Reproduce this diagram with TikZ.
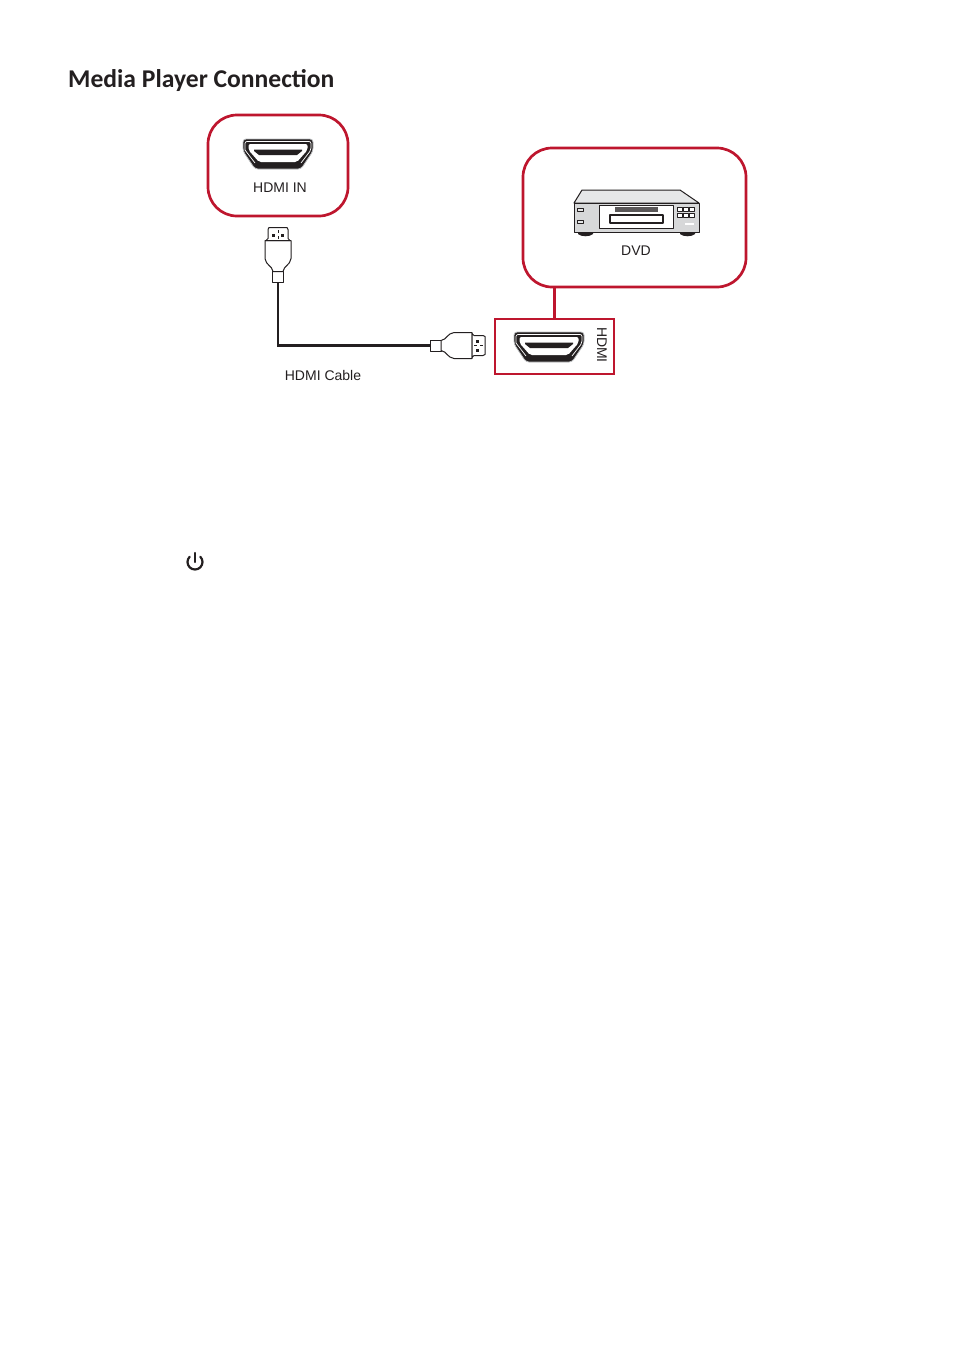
\documentclass[tikz,border=0pt]{standalone}
\usepackage{fontspec}
\setmainfont{Liberation Sans}
\newfontfamily\titlefont{Carlito}
\usepackage{xcolor}
\definecolor{vsred}{RGB}{190,22,46}
\definecolor{vsink}{RGB}{35,31,32}
\definecolor{vsgray}{RGB}{188,190,192}
\definecolor{vslight}{RGB}{230,231,232}
\tikzstyle{redbox} = [rectangle, rounded corners=29pt, draw=vsred, line width=2.7pt, inner sep=0pt]
\tikzstyle{portbox} = [rectangle, draw=vsred, line width=2.7pt, inner sep=0pt, minimum width=119pt, minimum height=55pt]
\tikzstyle{label} = [text=vsink, font=\fontsize{14}{16}\selectfont, inner sep=0pt]
\tikzstyle{link} = [draw=vsred, line width=2.7pt]
\tikzstyle{cable} = [draw=vsink, line width=2.2pt]
\tikzstyle{part} = [draw=vsink, line width=1pt, line join=round]
\tikzset{
  hdmiport/.pic={
    \draw[vsgray, line width=0.8pt, fill=vsink, rounded corners=3pt] (-35,-15) -- (35,-15) -- (35,-3) -- (23,15) -- (-23,15) -- (-35,-3) -- cycle;
    \draw[white, line width=0.7pt, rounded corners=2pt] (-33,-4) -- (-33,-12.5) -- (33,-12.5) -- (33,-4) -- (23,9);
    \draw[white, line width=0.7pt] (-33,-4) -- (-23,9);
    \fill[white, rounded corners=2pt] (-29.5,-10) -- (29.5,-10) -- (29.5,-4) -- (19,8) -- (-19,8) -- (-29.5,-4) -- cycle;
    \fill[vsink] (-24,-4.5) -- (24,-4.5) -- (24,-3) -- (19,1) -- (-19,1) -- (-24,-3) -- cycle;
  },
  hdmiplug/.pic={
    \coordinate (-tail) at (0,0);
    \draw[part, fill=white] (0,-5.5) rectangle (11,5.5);
    \draw[part, fill=white] (11,-5) .. controls (17,-6) and (17,-12) .. (24,-13) -- (42,-13) -- (42,13) -- (24,13) .. controls (17,12) and (17,6) .. (11,5) -- cycle;
    \draw[part, fill=white] (42,-12) -- (44,-10) -- (53,-10) -- (55,-9) -- (55,9) -- (53,10) -- (44,10) -- (42,12) -- cycle;
    \fill[vsink] (46,-6) rectangle (49,-3);
    \fill[vsink] (46,3) rectangle (49,6);
    \draw[vsink, line width=0.6pt, dashed] (44,0) -- (55,0);
  }
}
\begin{document}
\begin{tikzpicture}[x=1pt, y=-1pt]
\useasboundingbox (0,0) rectangle (954,1350);
% Heading
\node[anchor=west, text=vsink, inner sep=0pt, font=\titlefont\bfseries\fontsize{25.6}{30}\selectfont] (heading) at (68,81) {Media Player Connection};

% Boxes
\node[redbox, minimum width=140pt, minimum height=101pt] (hdmiinbox) at (278,165.5) {};
\node[redbox, minimum width=223pt, minimum height=139pt] (dvdbox) at (634.5,217.5) {};
\node[portbox] (hdmibox) at (554.5,346.5) {};
\draw[link] (dvdbox.south -| hdmibox.north) -- (hdmibox.north);

% Ports
\pic at (278,154) {hdmiport};
\pic at (549,347) {hdmiport};

% Labels
\node[label] (hdmiinlabel) at (280,187.5) {HDMI IN};
\node[label] (dvdlabel) at (636,250.5) {DVD};
\node[label] (cablelabel) at (323,375.5) {HDMI Cable};
\node[label, rotate=-90] (hdmilabel) at (602,345) {HDMI};

% Cable and plugs
\pic (plugtop) at (278,282.5) [rotate=90] {hdmiplug};
\pic (plugright) at (430,345.5) {hdmiplug};
\draw[cable] (plugtop-tail) |- (plugright-tail);

% DVD player
\draw[part, fill=vslight] (582,190) -- (680,190) -- (699,203) -- (574,203) -- cycle;
\fill[vsink] (578,231) -- (593,231) -- (593,234) .. controls (590,237) and (581,237) .. (578,234) -- cycle;
\fill[vsink] (680,231) -- (695,231) -- (695,234) .. controls (692,237) and (683,237) .. (680,234) -- cycle;
\draw[part, fill=vsgray!60] (574,203) rectangle (699,232);
\draw[part, fill=white] (599,205) rectangle (673,228);
\draw[part, fill=vslight] (577,208) rectangle (583,211);
\draw[part, fill=vslight] (577,220) rectangle (583,223);
\fill[vsink!75] (615,207) rectangle (658,212);
\draw[part, fill=white, line width=1.4pt] (610,215) rectangle (663,223);
\foreach \col in {0,1,2}
  \foreach \row in {0,1}
    \draw[part, fill=white, line width=0.8pt] (677+6.4*\col,207.5+6*\row) rectangle ++(5,4);
\fill[white] (685,222.5) rectangle (694,225);

% Power symbol
\draw[vsink, line width=2.2pt, line cap=round] (195,553) -- (195,562);
\draw[vsink, line width=2.2pt, line cap=round] (200.3,556.7) arc[start angle=-45, end angle=225, radius=7.5];
\end{tikzpicture}
\end{document}
